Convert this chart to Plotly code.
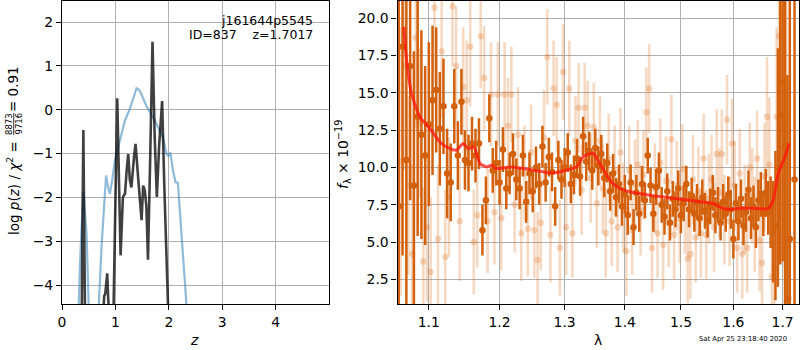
import plotly.graph_objects as go

# ---------------- left panel data: log p(z) ----------------
z_black = [0.30, 0.37, 0.40, 0.43, 0.50, 0.70, 0.775, 0.79, 0.81, 0.847, 0.865, 0.88, 0.93,
           0.965, 0.99, 1.034, 1.097, 1.14, 1.16, 1.18, 1.21, 1.24, 1.27, 1.30, 1.35, 1.377,
           1.43, 1.46, 1.49, 1.52, 1.55, 1.58, 1.61, 1.65, 1.695, 1.735, 1.776, 1.82, 1.875,
           1.915, 1.957, 1.985, 2.05]
logp_black = [-7, -4.6, -0.46, -4.6, -7, -7, -4.6, -4.25, -4.2, -3.73, -4.3, -4.6, -7,
              -4.6, -3.13, 0.26, -3.32, -2.0, -1.95, -1.92, -1.4, -1.01, -1.6, -1.77, -1.06, -0.78,
              -1.61, -1.99, -2.52, -1.73, -1.84, -2.2, -3.42, -1.2, 1.55, -0.6, -1.99, -0.8, 0.20,
              -1.7, -3.81, -4.6, -7]

z_blue = [0.25, 0.305, 0.336, 0.37, 0.40, 0.46, 0.52, 0.56, 0.66, 0.69, 0.74, 0.79, 0.825,
          0.86, 0.897, 0.94, 0.99, 1.084, 1.178, 1.27, 1.333, 1.396, 1.43, 1.458, 1.58,
          1.74, 1.89, 1.957, 1.99, 2.03, 2.08, 2.125, 2.17, 2.24, 2.33, 2.40]
logp_blue = [-7, -4.39, -3.55, -2.6, -1.88, -2.82, -4.4, -7, -7, -4.43, -3.13, -2.1, -1.5,
             -1.75, -1.92, -1.6, -1.16, -0.70, -0.25, 0.02, 0.28, 0.49, 0.47, 0.43, 0.09,
             -0.25, -0.63, -1.01, -1.05, -0.98, -1.39, -1.65, -1.67, -2.82, -4.43, -7]

# ---------------- right panel data: spectrum ----------------
lam_dark = [1.060, 1.065, 1.070, 1.075, 1.080, 1.085, 1.090, 1.095, 1.100, 1.105,
            1.110, 1.115, 1.120, 1.125, 1.130, 1.135, 1.140, 1.145, 1.150, 1.155,
            1.160, 1.165, 1.170, 1.175, 1.180, 1.185, 1.190, 1.195, 1.200, 1.205,
            1.210, 1.215, 1.220, 1.225, 1.230, 1.235, 1.240, 1.245, 1.250, 1.255,
            1.260, 1.265, 1.270, 1.275, 1.280, 1.285, 1.290, 1.295, 1.300, 1.305,
            1.310, 1.315, 1.320, 1.325, 1.330, 1.335, 1.340, 1.345, 1.350, 1.355,
            1.360, 1.365, 1.370, 1.375, 1.380, 1.385, 1.390, 1.395, 1.400, 1.405,
            1.410, 1.415, 1.420, 1.425, 1.430, 1.435, 1.440, 1.445, 1.450, 1.455,
            1.460, 1.465, 1.470, 1.475, 1.480, 1.485, 1.490, 1.495, 1.500, 1.505,
            1.510, 1.515, 1.520, 1.525, 1.530, 1.535, 1.540, 1.545, 1.550, 1.555,
            1.560, 1.565, 1.570, 1.575, 1.580, 1.585, 1.590, 1.595, 1.600, 1.605,
            1.610, 1.615, 1.620, 1.625, 1.630, 1.635, 1.640, 1.645, 1.650, 1.655,
            1.660, 1.665, 1.670, 1.675, 1.680, 1.685, 1.690, 1.695, 1.700, 1.705,
            1.710, 1.715, 1.725]
flux_dark = [7.4, 18.1, 10.5, 16.8, 8.8, 13.4, 12.2, 10.8, 12.9, 14.5,
             15.2, 12.6, 14.1, 9.6, 9.0, 14.1, 10.8, 14.4, 10.5, 10.3,
             11.6, 10.8, 11.6, 5.8, 7.8, 13.3, 9.8, 10.3, 9.0, 11.2,
             8.6, 9.6, 10.9, 9.2, 8.6, 10.8, 7.7, 9.6, 8.4, 10.0,
             8.9, 11.4, 9.0, 10.7, 9.7, 7.4, 10.5, 9.2, 10.0, 11.0,
             8.9, 9.5, 10.6, 9.4, 12.1, 10.4, 11.1, 9.8, 11.3, 10.1,
             10.9, 9.3, 10.3, 8.4, 9.6, 8.0, 8.9, 7.4, 8.2, 6.8,
             9.0, 6.0, 8.3, 6.9, 8.9, 7.8, 10.8, 8.8, 6.9, 8.7,
             9.8, 7.5, 6.7, 8.4, 6.3, 7.9, 7.2, 8.6, 6.8, 7.6,
             8.9, 7.2, 8.1, 6.9, 7.7, 6.6, 8.0, 7.1, 6.5, 7.4,
             8.3, 6.8, 7.5, 6.3, 7.7, 6.9, 8.2, 7.2, 5.2, 7.6,
             6.4, 7.9, 6.1, 7.0, 8.5, 6.6, 7.4, 6.0, 7.8, 8.2,
             6.9, 8.3, 7.3, 7.0, 5.7, 6.1, 10.0, 13.5, 15.7, 11.4,
             1.2, 5.2, 9.2]
err_dark = [15, 14, 12, 9, 9, 8, 7, 6, 5.5, 5,
            4.2, 3.8, 3.2, 3.0, 2.6, 2.5, 2.3, 2.2, 2.0, 1.9,
            1.8, 1.8, 1.7, 1.7, 1.6, 1.6, 1.5, 1.5, 1.5, 1.5,
            1.4, 1.4, 1.4, 1.4, 1.4, 1.4, 1.4, 1.4, 1.4, 1.4,
            1.4, 1.4, 1.3, 1.3, 1.3, 1.3, 1.3, 1.3, 1.3, 1.3,
            1.3, 1.3, 1.3, 1.3, 1.3, 1.3, 1.3, 1.3, 1.3, 1.3,
            1.3, 1.3, 1.3, 1.3, 1.3, 1.3, 1.3, 1.3, 1.3, 1.3,
            1.2, 1.2, 1.2, 1.2, 1.2, 1.2, 1.2, 1.2, 1.2, 1.2,
            1.2, 1.2, 1.2, 1.2, 1.2, 1.2, 1.2, 1.2, 1.2, 1.2,
            1.2, 1.2, 1.2, 1.2, 1.2, 1.2, 1.2, 1.2, 1.2, 1.2,
            1.2, 1.2, 1.2, 1.2, 1.2, 1.2, 1.2, 1.3, 1.3, 1.3,
            1.3, 1.3, 1.3, 1.3, 1.3, 1.4, 1.4, 1.4, 1.4, 1.5,
            1.5, 1.6, 1.8, 2.4, 3.4, 5, 8, 10, 12, 14,
            15, 16, 18]

lam_light = [1.0625, 1.0675, 1.0725, 1.0775, 1.0825, 1.0875, 1.0925, 1.0975, 1.1025, 1.1075,
             1.1125, 1.1175, 1.1225, 1.1275, 1.1325, 1.1375, 1.1425, 1.1475, 1.1525, 1.1575,
             1.1625, 1.1675, 1.1725, 1.1775, 1.1825, 1.1875, 1.1925, 1.1975, 1.2025, 1.2075,
             1.2125, 1.2175, 1.2225, 1.2275, 1.2325, 1.2375, 1.2425, 1.2475, 1.2525, 1.2575,
             1.2625, 1.2675, 1.2725, 1.2775, 1.2825, 1.2875, 1.2925, 1.2975, 1.3025, 1.3075,
             1.3125, 1.3175, 1.3225, 1.3275, 1.3325, 1.3375, 1.3425, 1.3475, 1.3525, 1.3575,
             1.3625, 1.3675, 1.3725, 1.3775, 1.3825, 1.3875, 1.3925, 1.3975, 1.4025, 1.4075,
             1.4125, 1.4175, 1.4225, 1.4275, 1.4325, 1.4375, 1.4425, 1.4475, 1.4525, 1.4575,
             1.4625, 1.4675, 1.4725, 1.4775, 1.4825, 1.4875, 1.4925, 1.4975, 1.5025, 1.5075,
             1.5125, 1.5175, 1.5225, 1.5275, 1.5325, 1.5375, 1.5425, 1.5475, 1.5525, 1.5575,
             1.5625, 1.5675, 1.5725, 1.5775, 1.5825, 1.5875, 1.5925, 1.5975, 1.6025, 1.6075,
             1.6125, 1.6175, 1.6225, 1.6275, 1.6325, 1.6375, 1.6425, 1.6475, 1.6525, 1.6575,
             1.6625, 1.6675, 1.6725, 1.6775, 1.6825, 1.6875, 1.6925, 1.6975, 1.7025, 1.7075,
             1.7125]
flux_light = [10.4, 16.8, 8.8, 4.2, 18.7, 13.0, 3.7, 6.0, 3.0, 20.7,
              5.2, 17.8, 4.0, 8.0, 20.8, 16.8, 6.4, 15.4, 14.5, 18.1,
              5.0, 6.8, 18.8, 16.0, 6.4, 14.9, 7.0, 14.9, 6.6, 14.9,
              12.8, 14.9, 7.5, 12.2, 5.6, 9.6, 5.9, 11.0, 5.8, 3.8,
              6.3, 12.0, 17.4, 5.5, 15.3, 14.2, 4.6, 16.4, 6.0, 15.3,
              5.6, 11.8, 14.0, 8.5, 14.0, 12.8, 9.3, 12.7, 7.6, 11.8,
              8.6, 5.6, 10.6, 6.4, 9.8, 6.0, 11.0, 7.3, 4.4, 9.8,
              5.8, 8.9, 10.2, 7.1, 9.5, 13.7, 15.3, 4.6, 8.6, 5.6,
              10.3, 4.8, 9.1, 6.3, 11.9, 5.5, 8.8, 6.6, 9.9, 7.2,
              3.9, 4.2, 9.2, 5.3, 8.4, 5.6, 10.6, 5.5, 7.9, 9.2,
              6.0, 10.9, 8.3, 10.9, 6.5, 13.2, 6.4, 11.6, 8.8, 4.6,
              9.6, 4.2, 7.2, 4.6, 10.0, 8.1, 6.2, 10.6, 5.1, 3.6,
              9.4, 13.4, 10.2, 2.7, 3.2, 13.4, 18.8, 20.3, 12.8, 13.4,
              1.2]
err_light = [9, 7, 6, 6, 6, 5, 5, 5, 5, 5,
             5, 4.5, 4.5, 4, 4, 4, 4, 4, 4, 4,
             3.5, 3.5, 3.5, 3.5, 3.5, 3.5, 3.5, 3.5, 3.5, 3.5,
             3.2, 3.2, 3.2, 3.2, 3.2, 3.2, 3.2, 3.2, 3.2, 3.2,
             3.2, 3.2, 3.2, 3.2, 3.2, 3.2, 3.2, 3.2, 3.2, 3.2,
             3.0, 3.0, 3.0, 3.0, 3.0, 3.0, 3.0, 3.0, 3.0, 3.0,
             3.0, 3.0, 3.0, 3.0, 3.0, 3.0, 3.0, 3.0, 3.0, 3.0,
             3.0, 3.0, 3.0, 3.0, 3.0, 3.0, 3.0, 3.0, 3.0, 3.0,
             3.0, 3.0, 3.0, 3.0, 3.0, 3.0, 3.0, 3.0, 3.0, 3.0,
             3.0, 3.0, 3.0, 3.0, 3.0, 3.0, 3.0, 3.0, 3.0, 3.0,
             3.0, 3.0, 3.0, 3.0, 3.0, 3.0, 3.0, 3.0, 3.0, 3.0,
             3.0, 3.0, 3.0, 3.0, 3.0, 3.2, 3.2, 3.2, 3.4, 3.4,
             3.6, 4.0, 4.5, 5, 5, 6, 7, 8, 9, 10,
             10]

lam_model = [1.0667, 1.0703, 1.0769, 1.0879, 1.1014, 1.115, 1.1241, 1.138, 1.1474, 1.1545,
             1.1627, 1.1713, 1.181, 1.1883, 1.1956, 1.2153, 1.2353, 1.266, 1.2817, 1.2977,
             1.3193, 1.330, 1.3465, 1.3576, 1.3744, 1.3914, 1.4087, 1.4438, 1.4676, 1.5041,
             1.5291, 1.5607, 1.580, 1.5931, 1.6193, 1.6463, 1.670, 1.6803, 1.6907, 1.7046,
             1.7136]
flux_model = [19.42, 17.19, 14.96, 13.39, 12.61, 11.71, 11.38, 11.16, 11.61, 11.27,
              11.38, 10.27, 10.04, 10.15, 9.93, 10.04, 9.93, 9.71, 9.64, 9.77,
              10.04, 10.71, 10.94, 10.27, 9.15, 8.59, 8.37, 8.14, 8.03, 7.86,
              7.74, 7.59, 7.25, 7.19, 7.29, 7.25, 7.25, 7.81, 9.60, 10.71,
              11.61]

z_ticks = [0, 1, 2, 3, 4]
lp_ticks = [-4, -3, -2, -1, 0, 1, 2]
lam_ticks = [1.1, 1.2, 1.3, 1.4, 1.5, 1.6, 1.7]
f_ticks = [2.5, 5.0, 7.5, 10.0, 12.5, 15.0, 17.5, 20.0]

# ---------------- figure ----------------
W, H = 800, 350
FONT = "DejaVu Sans"
ORANGE = "rgb(210,96,12)"
ORANGE_L = "rgba(222,120,40,0.28)"

fig = go.Figure()

fig.add_trace(go.Scatter(x=z_blue, y=logp_blue, mode="lines", xaxis="x", yaxis="y",
                         line=dict(color="rgba(31,119,180,0.5)", width=2.2), showlegend=False))
fig.add_trace(go.Scatter(x=z_black, y=logp_black, mode="lines", xaxis="x", yaxis="y",
                         line=dict(color="rgba(0,0,0,0.75)", width=2.6), showlegend=False))

fig.add_trace(go.Scatter(x=lam_light, y=flux_light, mode="markers", xaxis="x2", yaxis="y2",
                         marker=dict(color=ORANGE_L, size=6.5, line=dict(width=0)),
                         error_y=dict(type="data", array=err_light, color=ORANGE_L,
                                      thickness=2.6, width=0),
                         showlegend=False))
fig.add_trace(go.Scatter(x=lam_dark, y=flux_dark, mode="markers", xaxis="x2", yaxis="y2",
                         marker=dict(color=ORANGE, size=6.5, line=dict(width=0)),
                         error_y=dict(type="data", array=err_dark, color=ORANGE,
                                      thickness=2.5, width=0),
                         showlegend=False))
fig.add_trace(go.Scatter(x=lam_model, y=flux_model, mode="lines", xaxis="x2", yaxis="y2",
                         line=dict(color="rgba(255,20,10,0.75)", width=3, shape="spline",
                                   smoothing=0.6),
                         showlegend=False))

def ax(**kw):
    d = dict(showline=True, linecolor="black", linewidth=1.1, mirror=True,
             ticks="outside", ticklen=5, tickwidth=1.1, tickcolor="black",
             showgrid=True, gridcolor="#b0b0b0", gridwidth=1.1, zeroline=False,
             automargin=False,
             tickfont=dict(family=FONT, size=13.9, color="black"))
    d.update(kw)
    return d

def fmt(v):
    s = ("%g" % v) if float(v).is_integer() else ("%.1f" % v)
    return s.replace("-", "\u2212")

ydom = [46 / H, 349 / H]
fig.update_layout(
    width=W, height=H, margin=dict(l=0, r=0, t=0, b=0, autoexpand=False),
    paper_bgcolor="white", plot_bgcolor="white",
    font=dict(family=FONT, color="black"),
    xaxis=ax(domain=[62 / W, 329 / W], range=[0, 5], tickvals=z_ticks,
             ticktext=[fmt(v) for v in z_ticks], anchor="y"),
    yaxis=ax(domain=ydom, range=[-4.43, 2.48], tickvals=lp_ticks,
             ticktext=[fmt(v) for v in lp_ticks], anchor="x"),
    xaxis2=ax(domain=[397.5 / W, 799 / W], type="log",
              range=[0.02465, 0.23918], tickvals=lam_ticks,
              ticktext=["%.1f" % v for v in lam_ticks], anchor="y2"),
    yaxis2=ax(domain=ydom, range=[0.85, 21.16], tickvals=f_ticks,
              ticktext=["%.1f" % v for v in f_ticks], anchor="x2"),
)

def px(x):
    return x / W

def py(y):
    return 1 - y / H

ann = []
def add(text, x, y, size=13.9, angle=0, xa="center", ya="middle"):
    ann.append(dict(text=text, x=px(x), y=py(y), xref="paper", yref="paper",
                    showarrow=False, textangle=angle, xanchor=xa, yanchor=ya,
                    font=dict(family=FONT, size=size, color="black")))

add("j161644p5545", 315, 20, size=12.5, xa="right")
add("ID=837\u00a0\u00a0\u00a0\u00a0z=1.7017", 315, 34.5, size=12.5, xa="right")
add("<i>z</i>", 194, 340)
add("\u03bb", 598, 340)
add("Sat Apr 25 23:18:40 2020", 743, 339, size=6.8)
# left y label (mathtext style)
add("log <i>p</i>(<i>z</i>) / <i>\u03c7</i><sup>2</sup> =", 13, 188, size=13.5, angle=-90)
add("8873", 9, 124, size=8.5, angle=-90)
add("9716", 18.5, 124, size=8.5, angle=-90)
add("= 0.91", 13, 89, size=13.5, angle=-90)
# right y label
add("<i>f</i><sub>\u03bb</sub> \u00d7 10<sup>\u221219</sup>", 343, 155, angle=-90)
fig.update_layout(annotations=ann)

fig.add_shape(type="line", xref="paper", yref="paper",
              x0=px(13.7), x1=px(13.7), y0=py(113), y1=py(135),
              line=dict(color="black", width=0.8))

fig.write_html("out.html")
